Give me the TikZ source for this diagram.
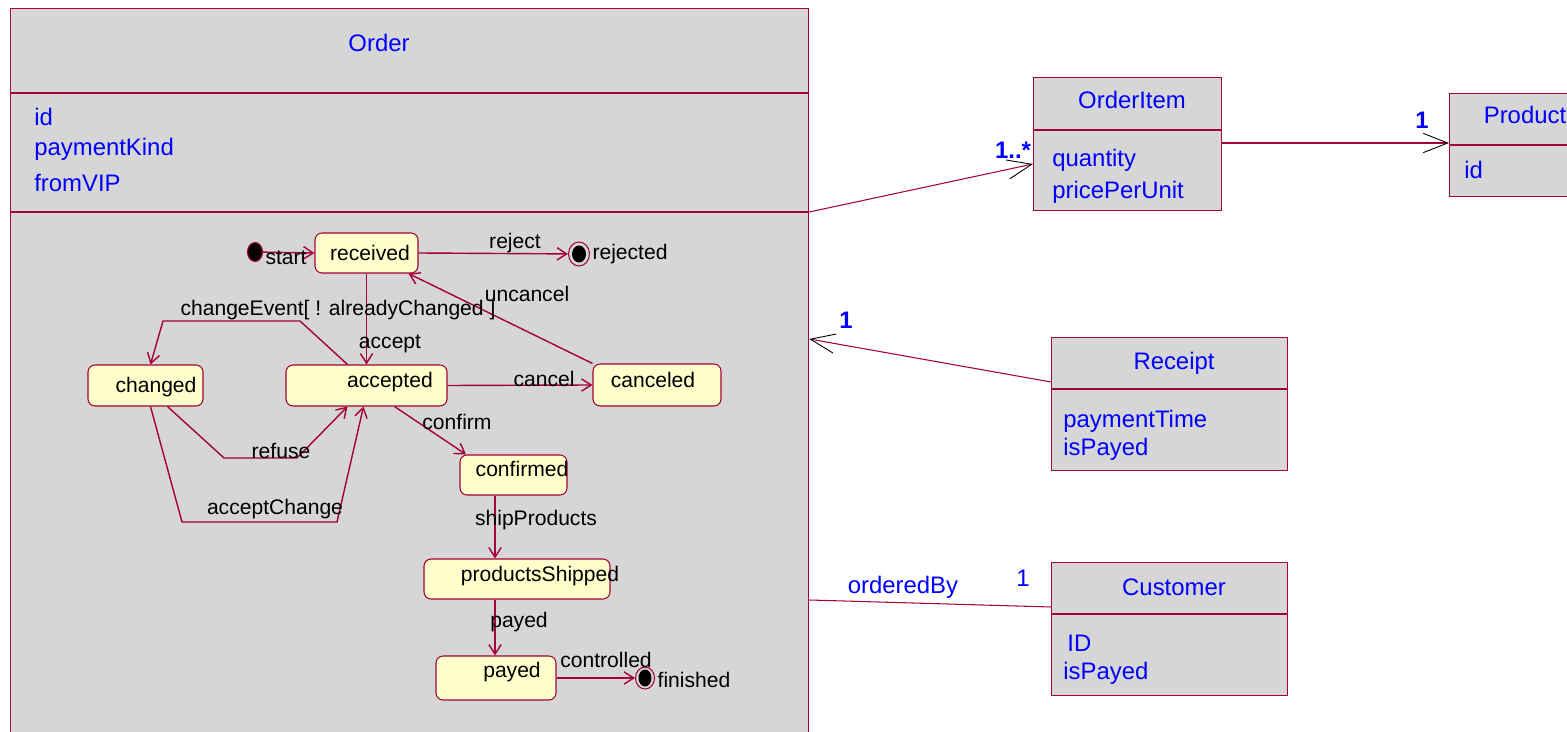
\documentclass[tikz,border=0pt]{standalone}
\usepackage{fontspec}
\setmainfont{Liberation Sans}
\usetikzlibrary{arrows.meta,shapes.geometric}
\definecolor{umlred}{RGB}{165,0,55}
\definecolor{classgray}{RGB}{214,214,214}
\definecolor{stateyellow}{RGB}{255,255,204}
\definecolor{umlblue}{RGB}{0,0,255}

\begin{document}
\begin{tikzpicture}
[x=0.02cm,y=-0.02cm,%
  classbox/.style={draw=umlred,fill=classgray,line width=0.8pt,anchor=north west,inner sep=0pt},%
  classline/.style={draw=umlred,line width=0.8pt},%
  classname/.style={text=umlblue,font=\fontsize{13.6}{16}\selectfont,inner sep=0pt},%
  attr/.style={classname,anchor=west},%
  mult/.style={classname,font=\fontsize{13.6}{16}\selectfont\bfseries},%
  assoc/.style={draw=umlred,line width=0.6pt},%
  nav/.style={assoc,-{Straight Barb[length=14pt,width=11pt,color=black,line width=0.5pt]}},%
  state/.style={draw=umlred,fill=stateyellow,rounded corners=4pt,line width=0.6pt,inner sep=0pt},%
  statetext/.style={font=\fontsize{12}{14}\selectfont,inner sep=0pt},%
  pseudo/.style={ellipse,draw=umlred,line width=0.6pt,inner sep=0pt},%
  trans/.style={draw=umlred,line width=0.8pt,-{Straight Barb[length=5.5pt,width=7pt]}}]
\useasboundingbox (0,0) rectangle (1567,732);
\clip (0,0) rectangle (1567,732);

% classes
\node[classbox,minimum width=15.96cm,minimum height=15cm] (order) at (10,8) {};
\draw[classline] (order.west |- 0,93) -- (order.east |- 0,93);
\draw[classline] (order.west |- 0,212) -- (order.east |- 0,212);
\node[classname] (ordername) at (379,43) {Order};
\node[attr] (orderid) at (34,117) {id};
\node[attr] (orderkind) at (34,149) {paymentKind};
\node[attr] (ordervip) at (34,183) {fromVIP};

\node[classbox,minimum width=3.76cm,minimum height=2.66cm] (orderitem) at (1033,77) {};
\draw[classline] (orderitem.west |- 0,130) -- (orderitem.east |- 0,130);
\node[classname] (orderitemname) at (1132,100) {OrderItem};
\node[attr] (quantity) at (1052,160) {quantity};
\node[attr] (priceperunit) at (1052,192) {pricePerUnit};

\node[classbox,minimum width=3cm,minimum height=2.06cm] (product) at (1449,93) {};
\draw[classline] (product.west |- 0,145) -- (product.east |- 0,145);
\node[classname] (productname) at (1525,115) {Product};
\node[attr] (productid) at (1464,170) {id};

\node[classbox,minimum width=4.72cm,minimum height=2.66cm] (receipt) at (1051,337) {};
\draw[classline] (receipt.west |- 0,389) -- (receipt.east |- 0,389);
\node[classname] (receiptname) at (1174,363) {Receipt};
\node[attr] (paymenttime) at (1063,421) {paymentTime};
\node[attr] (receiptpayed) at (1063,449) {isPayed};

\node[classbox,minimum width=4.72cm,minimum height=2.66cm] (customer) at (1051,562) {};
\draw[classline] (customer.west |- 0,614) -- (customer.east |- 0,614);
\node[classname] (customername) at (1174,587) {Customer};
\node[attr] (customerid) at (1067,643) {ID};
\node[attr] (customerpayed) at (1063,673) {isPayed};

% associations
\draw[nav] (order.east |- 0,212) -- (orderitem.west |- 0,164);
\node[mult] (multitem) at (1013,150) {1..*};
\draw[nav] (orderitem.east |- 0,143) -- (product.west |- 0,143);
\node[mult] (multproduct) at (1422,120) {1};
\draw[nav] (receipt.west |- 0,382) -- (order.east |- 0,339);
\node[mult] (multreceipt) at (846,320) {1};
\draw[assoc] (customer.west |- 0,607) -- (order.east |- 0,600);
\node[classname] (orderedby) at (903,587) {orderedBy};
\node[classname] (multcustomer) at (1023,578) {1};

% states
\node[state,minimum width=2.06cm,minimum height=0.8cm] (received) at (366.5,253) {};
\node[statetext] at (370,253) {received};
\node[state,minimum width=3.22cm,minimum height=0.82cm] (accepted) at (366.5,385.5) {};
\node[statetext] at (390,382) {accepted};
\node[state,minimum width=2.56cm,minimum height=0.84cm] (canceled) at (657,385) {};
\node[statetext] at (653,380) {canceled};
\node[state,minimum width=2.3cm,minimum height=0.82cm] (changed) at (145.5,385.5) {};
\node[statetext] at (156,387) {changed};
\node[state,minimum width=2.14cm,minimum height=0.8cm] (confirmed) at (513.5,475) {};
\node[statetext] at (522,469) {confirmed};
\node[state,minimum width=3.72cm,minimum height=0.8cm] (shipped) at (517,579) {};
\node[statetext] at (540,576) {productsShipped};
\node[state,minimum width=2.4cm,minimum height=0.88cm] (payed) at (496,678) {};
\node[statetext] at (512,672) {payed};

\node[pseudo,fill=black,minimum width=0.3cm,minimum height=0.38cm] (start) at (255,252) {};
\node[pseudo,minimum width=0.42cm,minimum height=0.48cm] (rejected) at (579,254) {};
\fill (rejected.center) ellipse [x radius=0.14cm,y radius=0.17cm];
\node[pseudo,minimum width=0.38cm,minimum height=0.44cm] (finished) at (645,678) {};
\fill (finished.center) ellipse [x radius=0.13cm,y radius=0.17cm];

% transitions
\draw[trans] (start) -- (received.west);
\node[statetext] (startlabel) at (286,258) {start};
\draw[trans] (received.east) -- (rejected);
\node[statetext] (rejectlabel) at (515,243) {reject};
\node[statetext] (rejectedlabel) at (630,254) {rejected};
\draw[trans] (received.south) -- (accepted.north);
\node[statetext] (acceptlabel) at (390,344) {accept};
\draw[trans] (canceled.north west) -- ([xshift=-0.2cm]received.south east);
\node[statetext] (uncancellabel) at (527,294) {uncancel};
\draw[trans] (accepted.east) -- (canceled.west);
\node[statetext] (cancellabel) at (544,379) {cancel};
\draw[trans] ([xshift=-0.38cm]accepted.north) -- (300,321) -- (163,321) -- ([xshift=0.1cm]changed.north);
\node[statetext] (changelabel) at (338,310) {changeEvent[ ! alreadyChanged ]};
\draw[trans] ([xshift=0.44cm]changed.south) -- (224,458) -- (297,458) -- ([xshift=-0.38cm]accepted.south);
\node[statetext] (refuselabel) at (281,451) {refuse};
\draw[trans] ([xshift=0.1cm]changed.south) -- (182,522) -- (337,522) -- ([xshift=-0.06cm]accepted.south);
\node[statetext] (acceptchangelabel) at (275,509) {acceptChange};
\draw[trans] ([xshift=0.56cm]accepted.south) -- ([xshift=-0.95cm]confirmed.north);
\node[statetext] (confirmlabel) at (457,422) {confirm};
\draw[trans] ([xshift=-0.37cm]confirmed.south) -- ([xshift=-0.37cm]confirmed.south |- shipped.north);
\node[statetext] (shiplabel) at (536,520) {shipProducts};
\draw[trans] ([xshift=-0.44cm]shipped.south) -- ([xshift=-0.44cm]shipped.south |- payed.north);
\node[statetext] (payedlabel) at (519,622) {payed};
\draw[trans] (payed.east) -- (finished);
\node[statetext] (controlledlabel) at (606,660) {controlled};
\node[statetext] (finishedlabel) at (694,680) {finished};
\end{tikzpicture}
\end{document}
